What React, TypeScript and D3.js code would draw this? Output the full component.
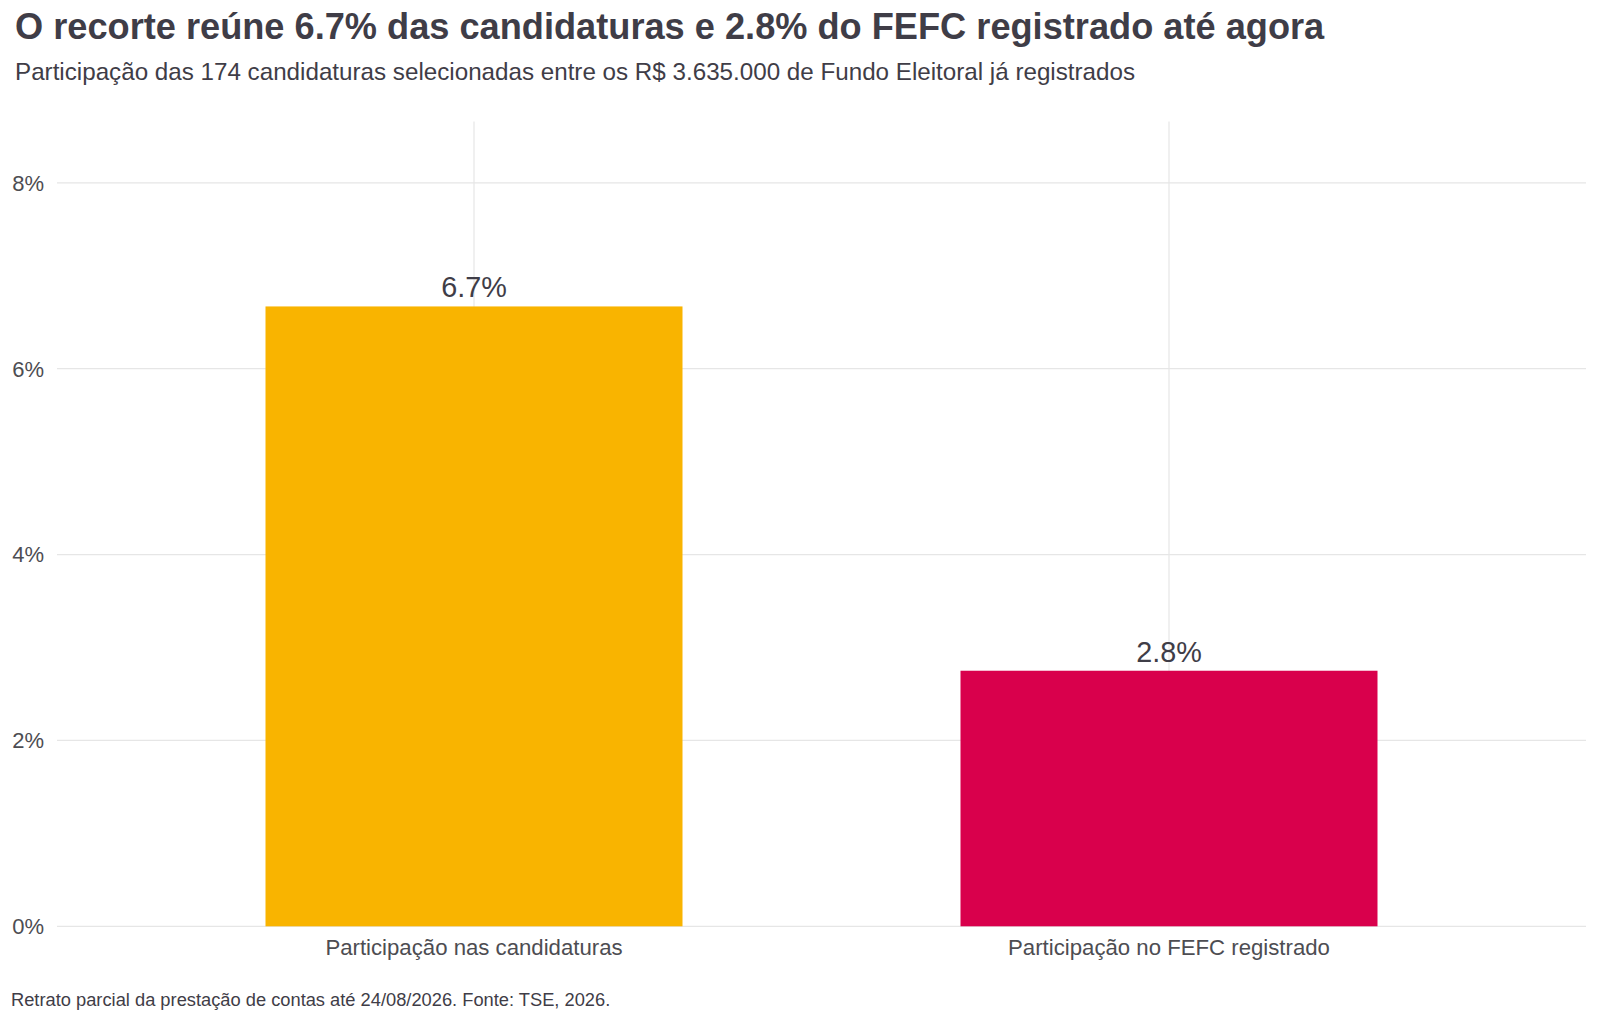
import React, { useEffect, useRef } from 'react';
import * as d3 from 'd3';

// Data
const categories = ['Participação nas candidaturas', 'Participação no FEFC registrado'];
const shares = [6.67, 2.75];
const shareLabels = ['6.7%', '2.8%'];
const barColors = ['#F9B400', '#D9004C'];
const yTicks = [0, 2, 4, 6, 8];

const TITLE = 'O recorte reúne 6.7% das candidaturas e 2.8% do FEFC registrado até agora';
const SUBTITLE = 'Participação das 174 candidaturas selecionadas entre os R$ 3.635.000 de Fundo Eleitoral já registrados';
const CAPTION = 'Retrato parcial da prestação de contas até 24/08/2026. Fonte: TSE, 2026.';

const WIDTH = 1600;
const HEIGHT = 1018;
const FONT = '"Liberation Sans", Arial, Helvetica, sans-serif';
const TEXT_DARK = '#3f3d47';
const TEXT_AXIS = '#4d4d52';
const GRID = '#e6e6e6';

export default function App() {
  const svgRef = useRef<SVGSVGElement>(null);

  useEffect(() => {
    if (!svgRef.current) return;
    const svg = d3.select(svgRef.current);
    svg.selectAll('*').remove();

    const panel = { left: 57, right: 1586, top: 121.5, bottom: 926.3 };

    // discrete x scale with ggplot-like 0.6 expansion
    const x = d3
      .scaleBand<string>()
      .domain(categories)
      .range([panel.left, panel.right])
      .paddingInner(0.4)
      .paddingOuter(0.3);

    const y = d3.scaleLinear().domain([0, 8.66]).range([panel.bottom, panel.top]);

    // Title block
    svg
      .append('text')
      .attr('x', 15)
      .attr('y', 39)
      .attr('font-family', FONT)
      .attr('font-size', 36.2)
      .attr('font-weight', 'bold')
      .attr('fill', TEXT_DARK)
      .text(TITLE);

    svg
      .append('text')
      .attr('x', 15)
      .attr('y', 80)
      .attr('font-family', FONT)
      .attr('font-size', 24.2)
      .attr('fill', TEXT_DARK)
      .text(SUBTITLE);

    const g = svg.append('g');

    // Horizontal gridlines
    g.selectAll('.hgrid')
      .data(yTicks)
      .enter()
      .append('line')
      .attr('x1', panel.left)
      .attr('x2', panel.right)
      .attr('y1', (d) => y(d))
      .attr('y2', (d) => y(d))
      .attr('stroke', GRID)
      .attr('stroke-width', 1.2);

    // Vertical gridlines at category centres
    g.selectAll('.vgrid')
      .data(categories)
      .enter()
      .append('line')
      .attr('x1', (d) => x(d)! + x.bandwidth() / 2)
      .attr('x2', (d) => x(d)! + x.bandwidth() / 2)
      .attr('y1', panel.top)
      .attr('y2', panel.bottom)
      .attr('stroke', GRID)
      .attr('stroke-width', 1.2);

    // Y tick labels
    g.selectAll('.ytick')
      .data(yTicks)
      .enter()
      .append('text')
      .attr('x', 44)
      .attr('y', (d) => y(d))
      .attr('dy', '0.36em')
      .attr('text-anchor', 'end')
      .attr('font-family', FONT)
      .attr('font-size', 22)
      .attr('fill', TEXT_AXIS)
      .text((d) => `${d}%`);

    // Bars
    g.selectAll('.bar')
      .data(categories)
      .enter()
      .append('rect')
      .attr('x', (d) => x(d)!)
      .attr('width', x.bandwidth())
      .attr('y', (d, i) => y(shares[i]))
      .attr('height', (d, i) => y(0) - y(shares[i]))
      .attr('fill', (d, i) => barColors[i]);

    // Value labels
    g.selectAll('.val')
      .data(categories)
      .enter()
      .append('text')
      .attr('x', (d) => x(d)! + x.bandwidth() / 2)
      .attr('y', (d, i) => y(shares[i]) - 9)
      .attr('text-anchor', 'middle')
      .attr('font-family', FONT)
      .attr('font-size', 28.8)
      .attr('fill', TEXT_DARK)
      .text((d, i) => shareLabels[i]);

    // X labels
    g.selectAll('.xtick')
      .data(categories)
      .enter()
      .append('text')
      .attr('x', (d) => x(d)! + x.bandwidth() / 2)
      .attr('y', 955)
      .attr('text-anchor', 'middle')
      .attr('font-family', FONT)
      .attr('font-size', 22.2)
      .attr('fill', TEXT_AXIS)
      .text((d) => d);

    // Caption
    svg
      .append('text')
      .attr('x', 11)
      .attr('y', 1006)
      .attr('font-family', FONT)
      .attr('font-size', 18.3)
      .attr('fill', TEXT_DARK)
      .text(CAPTION);
  }, []);

  return (
    <div style={{ position: 'absolute', left: 0, top: 0, background: '#ffffff' }}>
      <svg ref={svgRef} width={WIDTH} height={HEIGHT} style={{ display: 'block' }} />
    </div>
  );
}
